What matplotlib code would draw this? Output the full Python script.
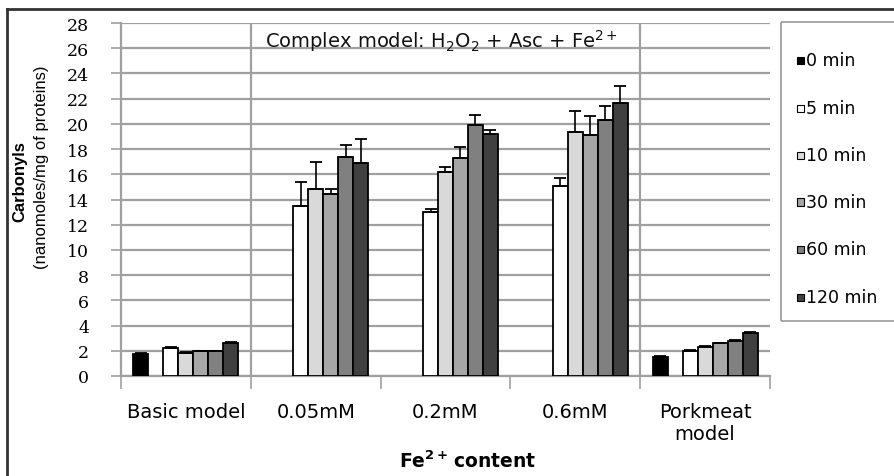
import matplotlib
matplotlib.use("Agg")
import matplotlib.pyplot as plt
import numpy as np
from matplotlib.patches import Rectangle
from matplotlib.lines import Line2D

plt.rcParams['font.family'] = ['DejaVu Sans']
plt.rcParams['mathtext.default'] = 'regular'

# ---------------- data ----------------
categories = ["Basic model", "0.05mM", "0.2mM", "0.6mM", "Porkmeat\nmodel"]
series_labels = ["0 min", "5 min", "10 min", "30 min", "60 min", "120 min"]

vals_0min = [1.75, np.nan, np.nan, np.nan, 1.5]
vals_5min = [2.2, 13.5, 13.0, 15.1, 2.0]
vals_10min = [1.85, 14.8, 16.2, 19.35, 2.3]
vals_30min = [1.95, 14.4, 17.3, 19.1, 2.6]
vals_60min = [1.95, 17.4, 19.9, 20.3, 2.8]
vals_120min = [2.6, 16.9, 19.2, 21.65, 3.45]

err_0min = [0.05, np.nan, np.nan, np.nan, 0.05]
err_5min = [0.08, 1.9, 0.25, 0.6, 0.05]
err_10min = [0.05, 2.2, 0.35, 1.7, 0.05]
err_30min = [0.05, 0.4, 0.9, 1.5, 0.05]
err_60min = [0.05, 0.9, 0.8, 1.1, 0.05]
err_120min = [0.08, 1.9, 0.3, 1.35, 0.05]

series_values = [vals_0min, vals_5min, vals_10min, vals_30min, vals_60min, vals_120min]
series_errors = [err_0min, err_5min, err_10min, err_30min, err_60min, err_120min]
series_colors = ["#000000", "#ffffff", "#d9d9d9", "#a6a6a6", "#808080", "#404040"]
series_slots = [0, 2, 3, 4, 5, 6]   # 7 slots per group, slot 1 empty

y_ticks = list(range(0, 29, 2))

# ---------------- figure ----------------
W, H = 895, 477
fig = plt.figure(figsize=(W / 100, H / 100), dpi=100)
fig.patch.set_facecolor("white")

def fx(px):
    return px / W

def fy(py):
    return 1 - py / H

ax_l, ax_r, ax_t, ax_b = 121, 770, 24, 377
ax = fig.add_axes([fx(ax_l), fy(ax_b), fx(ax_r - ax_l), (ax_b - ax_t) / H])

grid_c = "#a0a0a0"
x = np.arange(len(categories))
w = 15 / 130.0

for vals, errs, col, slot, lab in zip(series_values, series_errors, series_colors,
                                       series_slots, series_labels):
    xs = x + (slot - 3) * w
    v = np.array(vals, dtype=float)
    e = np.array(errs, dtype=float)
    ax.bar(xs, v, w, color=col, edgecolor="black", linewidth=1.3, zorder=3, label=lab)
    ax.errorbar(xs, v, yerr=[np.zeros_like(e), e], fmt="none", ecolor="black",
                elinewidth=1.2, capsize=4, capthick=1.3, zorder=4)

ax.set_xlim(-0.5, len(categories) - 0.5)
ax.set_ylim(0, 28)
ax.set_yticks(y_ticks)
ax.set_yticklabels([str(t) for t in y_ticks], family="DejaVu Serif", fontsize=12.5)
ax.yaxis.grid(True, color=grid_c, linewidth=1.6, zorder=0)
ax.set_axisbelow(True)
ax.tick_params(axis="y", length=7, width=1.2, color=grid_c, pad=16)

# x ticks at category boundaries, labels at centres
ax.set_xticks(np.arange(-0.5, len(categories), 1.0))
ax.set_xticklabels([])
ax.set_xticks(x, minor=True)
ax.set_xticklabels(categories, minor=True, fontsize=14, linespacing=1.15)
ax.tick_params(axis="x", which="major", length=9, width=1.2, color=grid_c)
ax.tick_params(axis="x", which="minor", length=0, pad=19)

for s in ["top", "right"]:
    ax.spines[s].set_visible(False)
for s in ["left", "bottom"]:
    ax.spines[s].set_color(grid_c)
    ax.spines[s].set_linewidth(1.6)

# group separators
for xv in (0.5, 3.5):
    ax.axvline(xv, color=grid_c, linewidth=1.6, zorder=1)

# title inside plot
fig.text(fx(441), fy(41), r"Complex model: H$_2$O$_2$ + Asc + Fe$^{2+}$",
         ha="center", va="center", fontsize=14, color="#111111")

# axis labels
fig.text(fx(468), fy(461), r"Fe$^{\mathbf{2+}}\,$content", ha="center", va="center",
         fontsize=13.5, fontweight="bold")
fig.text(fx(20), fy(182), "Carbonyls", rotation=90, ha="center", va="center",
         fontsize=12, fontweight="bold", family="Liberation Sans")
fig.text(fx(42), fy(167), "(nanomoles/mg of proteins)", rotation=90, ha="center",
         va="center", fontsize=12, family="Liberation Sans")

# legend (manual box, open on the right like the reference)
leg_l, leg_t, leg_b = 781, 23, 322
box_kw = dict(transform=fig.transFigure, color="#999999", linewidth=1.2,
              solid_capstyle="butt")
fig.add_artist(Line2D([fx(leg_l), fx(leg_l)], [fy(leg_t), fy(leg_b)], **box_kw))
fig.add_artist(Line2D([fx(leg_l), fx(894)], [fy(leg_t), fy(leg_t)], **box_kw))
fig.add_artist(Line2D([fx(leg_l), fx(894)], [fy(leg_b), fy(leg_b)], **box_kw))
leg_y = [61, 109, 156, 203, 250, 298]
for lab, col, yy in zip(series_labels, series_colors, leg_y):
    fig.add_artist(Rectangle((fx(797), fy(yy + 3.5)), fx(7), 7 / H,
                             transform=fig.transFigure, facecolor=col,
                             edgecolor="black", linewidth=0.8))
    fig.text(fx(806), fy(yy), lab, ha="left", va="center", fontsize=12.5)

# outer frame (top and left)
fig.add_artist(Line2D([fx(7), 1.0], [fy(10), fy(10)], transform=fig.transFigure,
                      color="#333333", linewidth=2))
fig.add_artist(Line2D([fx(7), fx(7)], [fy(10), 0.0], transform=fig.transFigure,
                      color="#333333", linewidth=2))

fig.savefig("out.png", dpi=100)
